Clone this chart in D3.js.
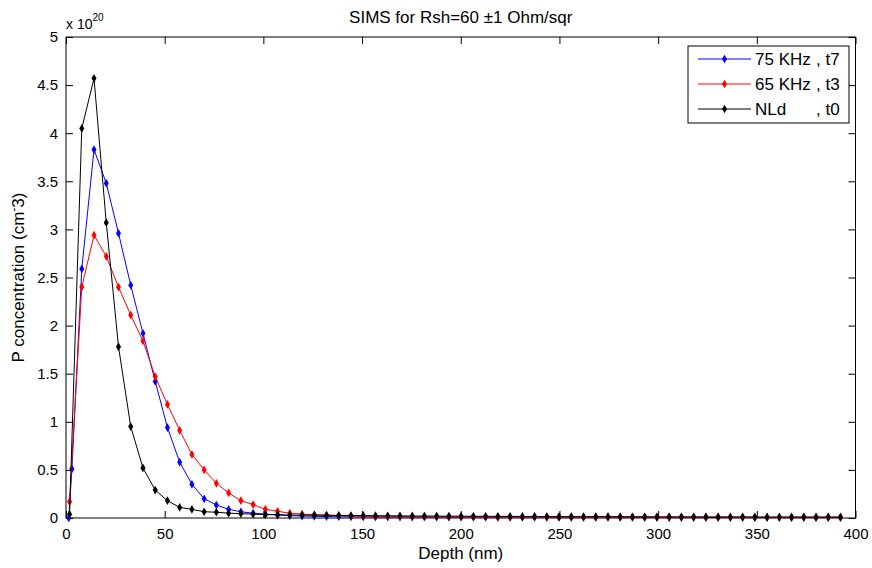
<!DOCTYPE html>
<html lang="en">
<head>
<meta charset="utf-8">
<title>SIMS for Rsh=60</title>
<script src="https://d3js.org/d3.v7.min.js"></script>
<style>
  body { margin: 0; background: #fff; }
  svg text { font-family: "Liberation Sans", Arial, sans-serif; fill: #000; }
  .axis text { font-size: 15px; }
  .axis path { display: none; }
  .axis line { stroke: #000; }
</style>
</head>
<body>
<script>
// Depth grid (nm)
var depth = [1.8, 8.0, 14.2, 20.4, 26.6, 32.8, 39.0, 45.2, 51.4, 57.6,
  63.8, 70.0, 76.2, 82.4, 88.6, 94.8, 101.0, 107.2, 113.4, 119.6,
  125.8, 132.0, 138.2, 144.4, 150.6, 156.8, 163.0, 169.2, 175.4, 181.6,
  187.8, 194.0, 200.2, 206.4, 212.6, 218.8, 225.0, 231.2, 237.4, 243.6,
  249.8, 256.0, 262.2, 268.4, 274.6, 280.8, 287.0, 293.2, 299.4, 305.6,
  311.8, 318.0, 324.2, 330.4, 336.6, 342.8, 349.0, 355.2, 361.4, 367.6,
  373.8, 380.0, 386.2, 392.4];

// blue profile has one extra shallow point
var blueDepth = [1.4, 3.0].concat(depth.slice(1));

// concentrations, x 10^20 cm^-3
var blueVals = [0.0, 0.51, 2.59, 3.83, 3.48, 2.96, 2.42, 1.92, 1.42, 0.94,
  0.58, 0.35, 0.20, 0.135, 0.09, 0.065, 0.05, 0.04, 0.03, 0.025,
  0.02, 0.018, 0.015, 0.013, 0.012, 0.011, 0.01, 0.01, 0.01, 0.009,
  0.009, 0.009, 0.008, 0.008, 0.008, 0.008, 0.007, 0.007, 0.007, 0.007,
  0.007, 0.006, 0.006, 0.006, 0.006, 0.006, 0.006, 0.006, 0.005, 0.005,
  0.005, 0.005, 0.005, 0.005, 0.005, 0.005, 0.005, 0.005, 0.005, 0.005,
  0.005, 0.005, 0.005, 0.005, 0.005];

var redVals = [0.17, 2.40, 2.94, 2.72, 2.40, 2.11, 1.84, 1.47, 1.18, 0.91,
  0.66, 0.50, 0.36, 0.26, 0.18, 0.14, 0.09, 0.07, 0.05, 0.04,
  0.035, 0.03, 0.025, 0.02, 0.018, 0.016, 0.015, 0.014, 0.013, 0.012,
  0.012, 0.011, 0.011, 0.01, 0.01, 0.01, 0.01, 0.01, 0.01, 0.01,
  0.009, 0.009, 0.009, 0.009, 0.009, 0.009, 0.009, 0.009, 0.008, 0.008,
  0.008, 0.008, 0.008, 0.008, 0.008, 0.008, 0.008, 0.008, 0.008, 0.008,
  0.008, 0.008, 0.008, 0.008];

var blackVals = [0.04, 4.05, 4.57, 3.07, 1.78, 0.95, 0.52, 0.29, 0.18, 0.11,
  0.09, 0.065, 0.06, 0.05, 0.045, 0.04, 0.035, 0.035, 0.03, 0.03,
  0.03, 0.028, 0.027, 0.026, 0.025, 0.024, 0.023, 0.022, 0.021, 0.02,
  0.02, 0.019, 0.019, 0.018, 0.018, 0.017, 0.017, 0.016, 0.016, 0.015,
  0.015, 0.015, 0.014, 0.014, 0.014, 0.013, 0.013, 0.013, 0.012, 0.012,
  0.012, 0.012, 0.011, 0.011, 0.011, 0.011, 0.01, 0.01, 0.01, 0.01,
  0.01, 0.01, 0.01, 0.01];

var seriesNames = ["75 KHz", "65 KHz", "NLd"];
var seriesTags = [", t7", ", t3", ", t0"];
var seriesColors = ["#0000ff", "#ff0000", "#000000"];

var xTicks = [0, 50, 100, 150, 200, 250, 300, 350, 400];
var yTicks = [0, 0.5, 1, 1.5, 2, 2.5, 3, 3.5, 4, 4.5, 5];

var w = 872, h = 568;
var axL = 66, axR = 855.5, axT = 37, axB = 518;

var svg = d3.select("body").append("svg")
  .attr("width", w)
  .attr("height", h);

var xScale = d3.scaleLinear().domain([0, 400]).range([axL, axR]);
var yScale = d3.scaleLinear().domain([0, 5]).range([axB, axT]);

// axes with inward ticks
var tick = 7;
svg.append("g").attr("class", "axis")
  .attr("transform", "translate(0," + axB + ")")
  .call(d3.axisBottom(xScale).tickValues(xTicks).tickSizeInner(-tick).tickSizeOuter(0).tickPadding(10));
svg.append("g").attr("class", "axis")
  .attr("transform", "translate(0," + axT + ")")
  .call(d3.axisTop(xScale).tickValues(xTicks).tickSizeInner(-tick).tickSizeOuter(0).tickFormat(""));
svg.append("g").attr("class", "axis")
  .attr("transform", "translate(" + axL + ",0)")
  .call(d3.axisLeft(yScale).tickValues(yTicks).tickSizeInner(-tick).tickSizeOuter(0).tickPadding(8)
    .tickFormat(function(d) { return String(d); }));
svg.append("g").attr("class", "axis")
  .attr("transform", "translate(" + axR + ",0)")
  .call(d3.axisRight(yScale).tickValues(yTicks).tickSizeInner(-tick).tickSizeOuter(0).tickFormat(""));

svg.append("rect")
  .attr("x", axL).attr("y", axT)
  .attr("width", axR - axL).attr("height", axB - axT)
  .attr("fill", "none").attr("stroke", "#000");

// series
var series = [
  { x: blueDepth, y: blueVals },
  { x: depth, y: redVals },
  { x: depth, y: blackVals }
];

var line = d3.line()
  .x(function(d) { return xScale(d[0]); })
  .y(function(d) { return yScale(d[1]); });

series.forEach(function(s, k) {
  var pts = s.x.map(function(d, i) { return [d, s.y[i]]; });
  svg.append("path")
    .datum(pts)
    .attr("d", line)
    .attr("fill", "none")
    .attr("stroke", seriesColors[k])
    .attr("stroke-width", 1);
  svg.append("g").selectAll("path")
    .data(pts)
    .enter()
    .append("path")
    .attr("d", d3.symbol().type(d3.symbolDiamond).size(22))
    .attr("transform", function(d) { return "translate(" + xScale(d[0]) + "," + yScale(d[1]) + ")"; })
    .attr("fill", seriesColors[k]);
});

// exponent
var expo = svg.append("text").attr("x", axL).attr("y", 29).style("font-size", "14px");
expo.append("tspan").text("x 10");
expo.append("tspan").attr("dy", -8).style("font-size", "10px").text("20");

// title
svg.append("text")
  .attr("x", (axL + axR) / 2).attr("y", 23)
  .attr("text-anchor", "middle")
  .style("font-size", "17px")
  .text("SIMS for Rsh=60 \u00b11 Ohm/sqr");

// axis labels
svg.append("text")
  .attr("x", (axL + axR) / 2).attr("y", 559)
  .attr("text-anchor", "middle")
  .style("font-size", "17px")
  .text("Depth (nm)");

var yl = svg.append("text")
  .attr("transform", "translate(24," + ((axT + axB) / 2) + ") rotate(-90)")
  .attr("text-anchor", "middle")
  .style("font-size", "17px");
yl.append("tspan").text("P concentration (cm");
yl.append("tspan").attr("dy", -6).style("font-size", "12px").text("-");
yl.append("tspan").attr("dy", 6).text("3)");

// legend
var lg = svg.append("g");
lg.append("rect")
  .attr("x", 688).attr("y", 46).attr("width", 161).attr("height", 77)
  .attr("fill", "#fff").attr("stroke", "#000");
seriesNames.forEach(function(name, k) {
  var ly = 59 + k * 25;
  lg.append("line")
    .attr("x1", 698).attr("x2", 751).attr("y1", ly).attr("y2", ly)
    .attr("stroke", seriesColors[k]);
  lg.append("path")
    .attr("d", d3.symbol().type(d3.symbolDiamond).size(22))
    .attr("transform", "translate(724.5," + ly + ")")
    .attr("fill", seriesColors[k]);
  lg.append("text")
    .attr("x", 755).attr("y", ly + 6)
    .style("font-size", "17px")
    .text(name);
  lg.append("text")
    .attr("x", 816).attr("y", ly + 6)
    .style("font-size", "17px")
    .text(seriesTags[k]);
});
</script>
</body>
</html>
